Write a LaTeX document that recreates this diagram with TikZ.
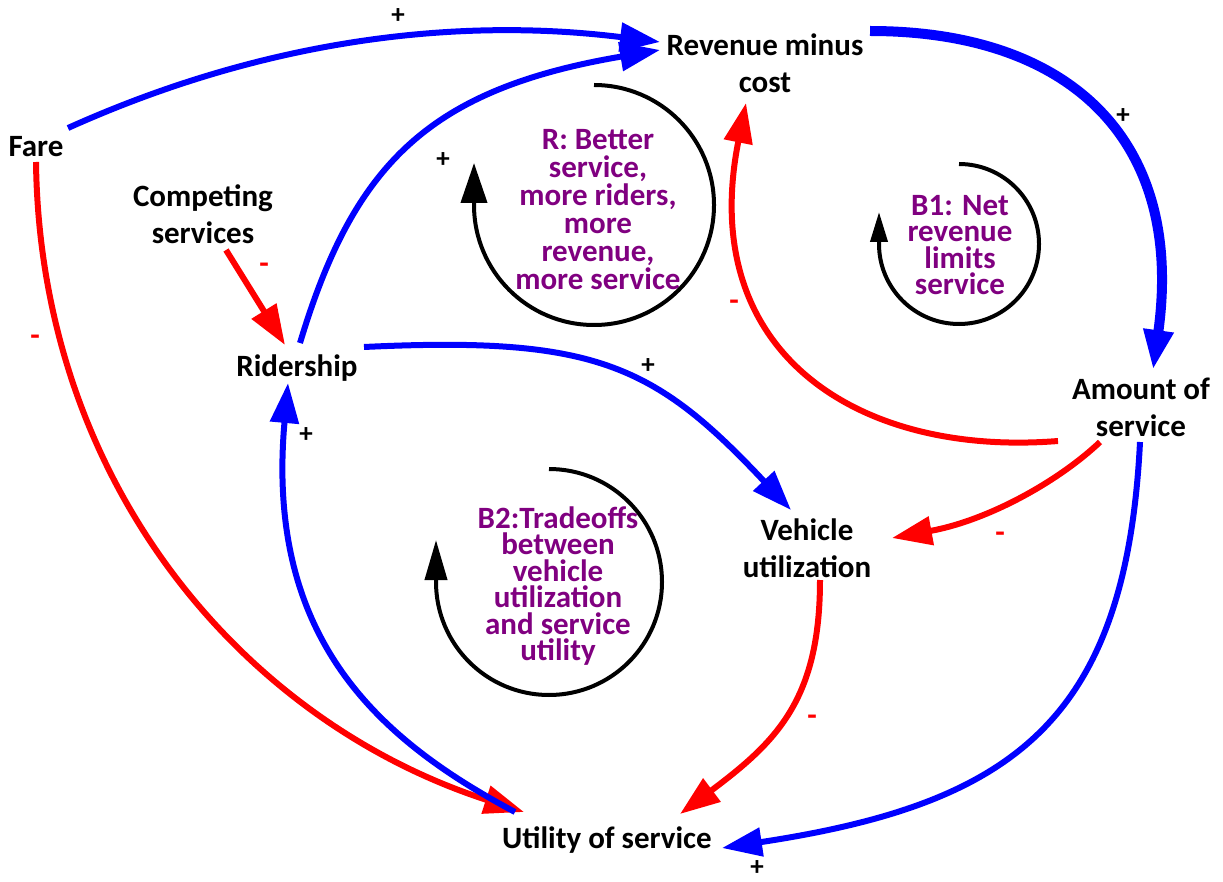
\documentclass[tikz,border=0pt]{standalone}
\usepackage{fontspec}
\setmainfont{Carlito}
\usetikzlibrary{arrows.meta,calc}
\definecolor{posblue}{RGB}{0,0,255}
\definecolor{negred}{RGB}{255,0,0}
\definecolor{looptext}{RGB}{128,0,128}

\begin{document}
\begin{tikzpicture}[x=1pt,y=-1pt,
  var/.style={font=\fontsize{31}{37}\selectfont\bfseries, align=center, inner sep=0pt},
  looplbl/.style={font=\fontsize{31}{26.5}\selectfont\bfseries, text=looptext, align=center, inner sep=0pt},
  plink/.style={draw=posblue, line width=6pt, -{Triangle[length=40pt,width=28pt]}},
  plinkthick/.style={draw=posblue, line width=10pt, -{Triangle[length=40pt,width=28pt]}},
  nlink/.style={draw=negred, line width=6pt, -{Triangle[length=40pt,width=28pt]}},
  looparrow/.style={draw=black, line width=4pt, -{Triangle[length=40pt,width=26pt]}},
  plus/.style={font=\fontsize{27}{27}\selectfont\bfseries, inner sep=0pt},
  minus/.style={font=\fontsize{31}{31}\selectfont\bfseries, text=negred, inner sep=0pt}]

\useasboundingbox (0,0) rectangle (1223,882);

% variables
\node[var] (fare)   at (36,147)   {Fare};
\node[var] (rev)    at (765,63)   {Revenue minus\\cost};
\node[var] (comp)   at (203,214)  {Competing\\services};
\node[var] (rider)  at (297,368)  {Ridership};
\node[var] (amount) at (1141,407) {Amount of\\service};
\node[var] (veh)    at (807,548)  {Vehicle\\utilization};
\node[var] (util)   at (607,840)  {Utility of service};

% loop labels
\node[looplbl, font=\fontsize{31}{28}\selectfont\bfseries] (lr) at (598,210) {R: Better\\service,\\more riders,\\more\\revenue,\\more service};
\node[looplbl] (lb1) at (960,245) {B1: Net\\revenue\\limits\\service};
\node[looplbl] (lb2) at (558,586) {B2:Tradeoffs\\between\\vehicle\\utilization\\and service\\utility};

% loop circles with their direction arrows
\coordinate (cr)  at (594,205);
\coordinate (cb1) at (959,244);
\coordinate (cb2) at (549,582);
\draw[looparrow] ($(cr)+(270:120)$) arc[start angle=270, end angle=540, radius=120] -- ++(0,-42);
\draw[looparrow, -{Triangle[length=30pt,width=17pt]}] ($(cb1)+(270:80)$) arc[start angle=270, end angle=540, radius=80] -- ++(0,-32);
\draw[looparrow, -{Triangle[length=40pt,width=22pt]}] ($(cb2)+(270:113)$) arc[start angle=270, end angle=540, radius=113] -- ++(0,-42);

% causal links
\draw[plink] ([shift={(32,-19)}]fare.center) .. controls (268,38) and (460,17) .. ([shift={(-105,-21)}]rev.center);
\draw[plink] ([shift={(3,-25)}]rider.center) .. controls (354,163) and (430,89) .. ([shift={(-105,-13)}]rev.center);
\draw[plinkthick] ([shift={(105,-32)}]rev.center) .. controls (1070,31) and (1185,140) .. ([shift={(12,-37)}]amount.center);
\draw[nlink] ([shift={(-83,34)}]amount.center) .. controls (858,457) and (696,353) .. ([shift={(-19,40)}]rev.center);
\draw[nlink] ([shift={(-41,35)}]amount.center) .. controls (1060,480) and (990,520) .. ([shift={(85,-10)}]veh.center);
\draw[plink] ([shift={(-1,35)}]amount.center) .. controls (1126,722) and (1012,804) .. ([shift={(115,8)}]util.center);
\draw[plink] ([shift={(67,-21)}]rider.center) .. controls (594,336) and (654,364) .. ([shift={(-16,-38)}]veh.center);
\draw[nlink] ([shift={(23,36)}]comp.center) -- ([shift={(-12,-23)}]rider.center);
\draw[nlink] ([shift={(0,15)}]fare.center) .. controls (40,480) and (240,720) .. ([shift={(-83,-28)}]util.center);
\draw[plink] ([shift={(-92,-28)}]util.center) .. controls (380,740) and (265,640) .. ([shift={(-9,15)}]rider.center);
\draw[nlink] ([shift={(13,32)}]veh.center) .. controls (820,700) and (776,742) .. ([shift={(73,-26)}]util.center);

% polarity signs
\node[plus]  (s1)  at (398,16)  {+};
\node[plus]  (s2)  at (443,160) {+};
\node[plus]  (s3)  at (1123,116) {+};
\node[minus] (s4)  at (734,305) {-};
\node[minus] (s5)  at (1000,537) {-};
\node[plus]  (s6)  at (757,868) {+};
\node[plus]  (s7)  at (648,366) {+};
\node[minus] (s8)  at (264,268) {-};
\node[minus] (s9)  at (35,340)  {-};
\node[plus]  (s10) at (306,435) {+};
\node[minus] (s11) at (812,720) {-};
\end{tikzpicture}
\end{document}
